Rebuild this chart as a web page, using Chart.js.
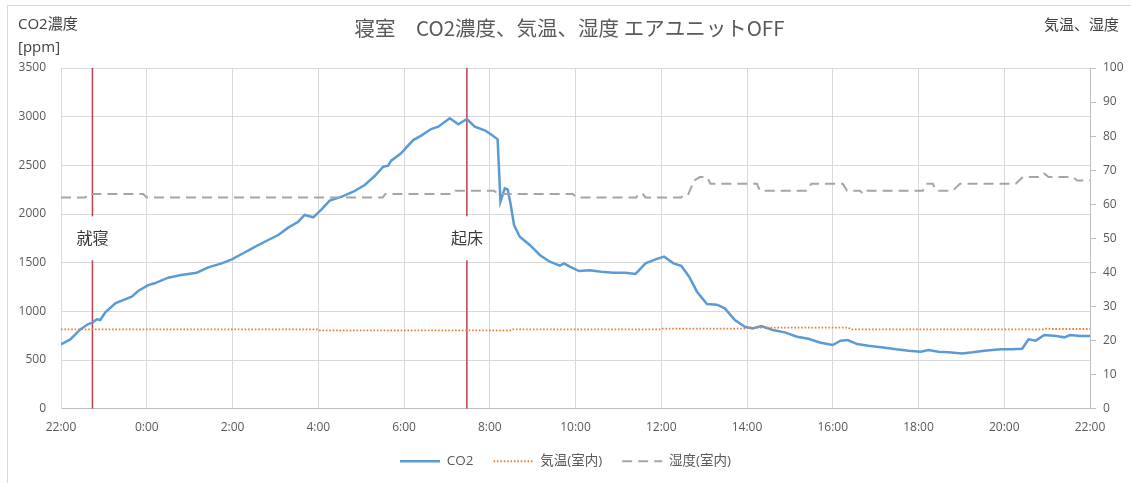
<!DOCTYPE html>
<html lang="ja">
<head>
<meta charset="utf-8">
<title>寝室 CO2濃度、気温、湿度</title>
<script src="https://cdn.jsdelivr.net/npm/chart.js@4/dist/chart.umd.min.js"></script>
<style>
  html, body { margin: 0; padding: 0; background: #fff; }
  #wrap { position: relative; width: 1131px; height: 483px; overflow: hidden; }
  #frame { position: absolute; left: 7px; top: 5px; width: 1130px; height: 490px;
           border-top: 1px solid #d9d9d9; border-left: 1px solid #d9d9d9; pointer-events: none; }
  canvas { position: absolute; left: 0; top: 0; }
</style>
</head>
<body>
<div id="wrap">
  <canvas id="c" width="1131" height="483"></canvas>
  <div id="frame"></div>
</div>
<script>
// ---- data (clock times, 22:00 to 22:00 next day) ----
const co2Times = ['22:00','22:13','22:27','22:38','22:44','22:50','22:55','23:02','23:16','23:25','23:39','23:48',
  '0:02','0:11','0:30','0:48','1:10','1:26','1:45','1:59','2:13','2:32','2:50','3:04','3:18','3:32','3:41','3:53',
  '4:05','4:16','4:33','4:49','5:05','5:19','5:31','5:38','5:42','5:56','6:03','6:13','6:24','6:38','6:48','7:04',
  '7:16','7:28','7:39','7:53','8:03','8:11','8:15','8:21','8:25','8:29','8:34','8:42','8:56','9:10','9:24','9:38',
  '9:44','9:52','10:05','10:20','10:36','10:53','11:10','11:24','11:38','11:52','12:04','12:17','12:28','12:39',
  '12:50','13:04','13:18','13:29','13:43','13:57','14:08','14:20','14:36','14:53','15:10','15:26','15:43','16:00',
  '16:11','16:21','16:34','16:50','17:13','17:29','17:46','18:03','18:14','18:28','18:42','19:01','19:16','19:32',
  '19:55','20:11','20:25','20:34','20:44','20:56','21:13','21:24','21:32','21:46','22:00'];
const co2Values = [660,712,815,870,884,918,911,990,1082,1110,1150,1209,
  1270,1288,1346,1373,1397,1452,1493,1534,1589,1664,1733,1784,1860,1921,1990,1966,
  2051,2137,2178,2229,2298,2390,2486,2497,2548,2623,2682,2760,2805,2873,2897,2983,
  2921,2976,2897,2860,2812,2767,2127,2264,2253,2110,1887,1767,1682,1579,1510,1469,
  1493,1459,1414,1421,1408,1397,1397,1384,1493,1534,1562,1493,1469,1356,
  1202,1075,1068,1031,911,842,825,849,808,784,740,719,678,654,
  699,705,664,647,627,610,596,586,603,586,579,568,579,596,
  610,610,616,712,699,757,747,733,757,747,747];

const tempTimes  = ['22:00','4:00','4:02','8:30','8:32','12:00','12:02','13:57','14:00','16:22','16:25','20:55','21:00','21:05','22:00'];
const tempValues = [23.3, 23.3, 23.0, 23.0, 23.3, 23.3, 23.5, 23.5, 23.8, 23.8, 23.3, 23.3, 23.6, 23.4, 23.4];

const humTimes  = ['22:00','22:34','22:38','23:55','0:00','5:30','5:34','7:08','7:12','8:06','8:12','9:56','10:02',
  '11:25','11:28','11:34','11:38','12:28','12:32','12:38','12:46','12:54','13:04','13:09','14:14','14:18','15:24',
  '15:30','16:14','16:20','16:38','16:43','16:48','18:06','18:11','18:20','18:25','18:48','18:58','20:16','20:26',
  '20:50','20:56','21:02','21:36','21:42','22:00'];
const humValues = [62,62,63,63,62,62,63,63,64,64,63,63,62,
  62,63,63,62,62,63,63,67,68,68,66,66,64,64,
  66,66,64,64,63,64,64,66,66,64,64,66,66,68,
  68,69,68,68,67,67];

const eventNames = ['就寝', '起床'];
const eventTimes = ['22:44', '7:28'];

const xTickLabels = ['22:00','0:00','2:00','4:00','6:00','8:00','10:00','12:00','14:00','16:00','18:00','20:00','22:00'];

// clock strings -> hours elapsed since the 22:00 start, kept monotonic
function toHoursList(times) {
  let prev = -1;
  return times.map(t => {
    const [h, m] = t.split(':').map(Number);
    let v = h - 22 + m / 60;
    if (v < 0) v += 24;
    if (v < prev) v += 24;
    prev = v;
    return v;
  });
}
const toPoints = (times, values) => toHoursList(times).map((x, i) => ({ x, y: values[i] }));
const eventHours = toHoursList(eventTimes);

const FONT = "'Open Sans', 'Noto Sans CJK JP', sans-serif";
const JP = "'Noto Sans CJK JP', sans-serif";
Chart.defaults.font.family = FONT;
Chart.defaults.font.size = 12;
Chart.defaults.color = '#595959';

const eventColor = '#c0404a';

// titles, axis captions and the event captions on the red markers
const textLayer = {
  id: 'textLayer',
  afterDatasetsDraw(chart) {
    const { ctx, chartArea, scales } = chart;
    ctx.save();
    const midY = (chartArea.top + chartArea.bottom) / 2;
    ctx.font = '16px ' + JP;
    ctx.textBaseline = 'middle';
    ctx.textAlign = 'center';
    eventNames.forEach((name, i) => {
      const x = scales.x.getPixelForValue(eventHours[i]);
      ctx.fillStyle = '#ffffff';
      ctx.fillRect(x - 4, midY - 22, 8, 44);
      ctx.fillStyle = '#3a3a3a';
      ctx.fillText(name, x, midY);
    });
    ctx.restore();
  },
  afterDraw(chart) {
    const { ctx } = chart;
    ctx.save();
    ctx.textBaseline = 'middle';
    ctx.fillStyle = '#595959';
    ctx.font = '20.5px ' + JP;
    ctx.textAlign = 'center';
    ctx.fillText('寝室　CO2濃度、気温、湿度 エアユニットOFF', chart.width / 2 + 4, 28);
    ctx.fillStyle = '#404040';
    ctx.font = '15px ' + FONT;
    ctx.textAlign = 'left';
    ctx.fillText('CO2濃度', 18, 25);
    ctx.fillText('[ppm]', 18, 48);
    ctx.textAlign = 'right';
    ctx.fillText('気温、湿度', 1119, 26);
    ctx.restore();
  }
};

const PLOT_BOTTOM = 408.7;
const BOTTOM_PAD = 5;

const eventDatasets = eventHours.map((h, i) => ({
  label: eventNames[i],
  data: [{ x: h, y: 0 }, { x: h, y: 3500 }],
  yAxisID: 'y',
  borderColor: eventColor,
  borderWidth: 1.5,
  pointRadius: 0,
  order: 4,
  isEvent: true
}));

new Chart(document.getElementById('c'), {
  type: 'line',
  data: {
    datasets: [
      {
        label: 'CO2',
        data: toPoints(co2Times, co2Values),
        yAxisID: 'y',
        borderColor: '#5b9bd5',
        backgroundColor: '#5b9bd5',
        borderWidth: 2.5,
        pointRadius: 0,
        tension: 0,
        order: 3
      },
      {
        label: '気温(室内)',
        data: toPoints(tempTimes, tempValues),
        yAxisID: 'y2',
        borderColor: '#ed7d31',
        backgroundColor: '#ed7d31',
        borderWidth: 1.8,
        borderDash: [1.6, 1.8],
        pointRadius: 0,
        order: 2
      },
      {
        label: '湿度(室内)',
        data: toPoints(humTimes, humValues),
        yAxisID: 'y2',
        borderColor: '#a5a5a5',
        backgroundColor: '#a5a5a5',
        borderWidth: 2,
        borderDash: [10, 6],
        pointRadius: 0,
        order: 1
      },
      ...eventDatasets
    ]
  },
  options: {
    responsive: false,
    animation: false,
    events: [],
    layout: { padding: { top: 68, left: 0, right: 0, bottom: BOTTOM_PAD } },
    plugins: {
      title: { display: false },
      tooltip: { enabled: false },
      legend: {
        position: 'bottom',
        labels: {
          usePointStyle: true,
          pointStyle: 'line',
          pointStyleWidth: 40,
          padding: 20,
          color: '#595959',
          font: { size: 13.5, family: FONT },
          sort: (a, b) => a.datasetIndex - b.datasetIndex,
          filter: (item, data) => !data.datasets[item.datasetIndex].isEvent,
          generateLabels(chart) {
            const items = Chart.defaults.plugins.legend.labels.generateLabels(chart);
            return items.map(item => {
              const ds = chart.data.datasets[item.datasetIndex];
              item.lineDash = ds.borderDash || [];
              item.lineWidth = ds.borderWidth;
              item.strokeStyle = ds.borderColor;
              return item;
            });
          }
        }
      }
    },
    scales: {
      x: {
        type: 'linear',
        min: 0,
        max: 24,
        afterFit(scale) {
          const lg = scale.chart.legend ? scale.chart.legend.height : 0;
          scale.height = 483 - PLOT_BOTTOM - lg - BOTTOM_PAD;
        },
        ticks: {
          stepSize: 2,
          padding: 12,
          maxRotation: 0,
          autoSkip: false,
          callback: v => xTickLabels[Math.round(v / 2)]
        },
        grid: { color: '#d9d9d9', lineWidth: 1, drawTicks: false },
        border: { color: '#bfbfbf', width: 1 }
      },
      y: {
        position: 'left',
        min: 0,
        max: 3500,
        afterFit(scale) { scale.width = 61; },
        ticks: { stepSize: 500, padding: 15, callback: v => String(v) },
        grid: { color: '#d9d9d9', lineWidth: 1, drawTicks: false },
        border: { color: '#d9d9d9' }
      },
      y2: {
        position: 'right',
        min: 0,
        max: 100,
        afterFit(scale) { scale.width = 41; },
        ticks: { stepSize: 10, padding: 7, callback: v => String(v) },
        grid: { drawOnChartArea: false, color: '#bfbfbf', tickLength: 6 },
        border: { color: '#bfbfbf' }
      }
    }
  },
  plugins: [textLayer]
});
</script>
</body>
</html>
